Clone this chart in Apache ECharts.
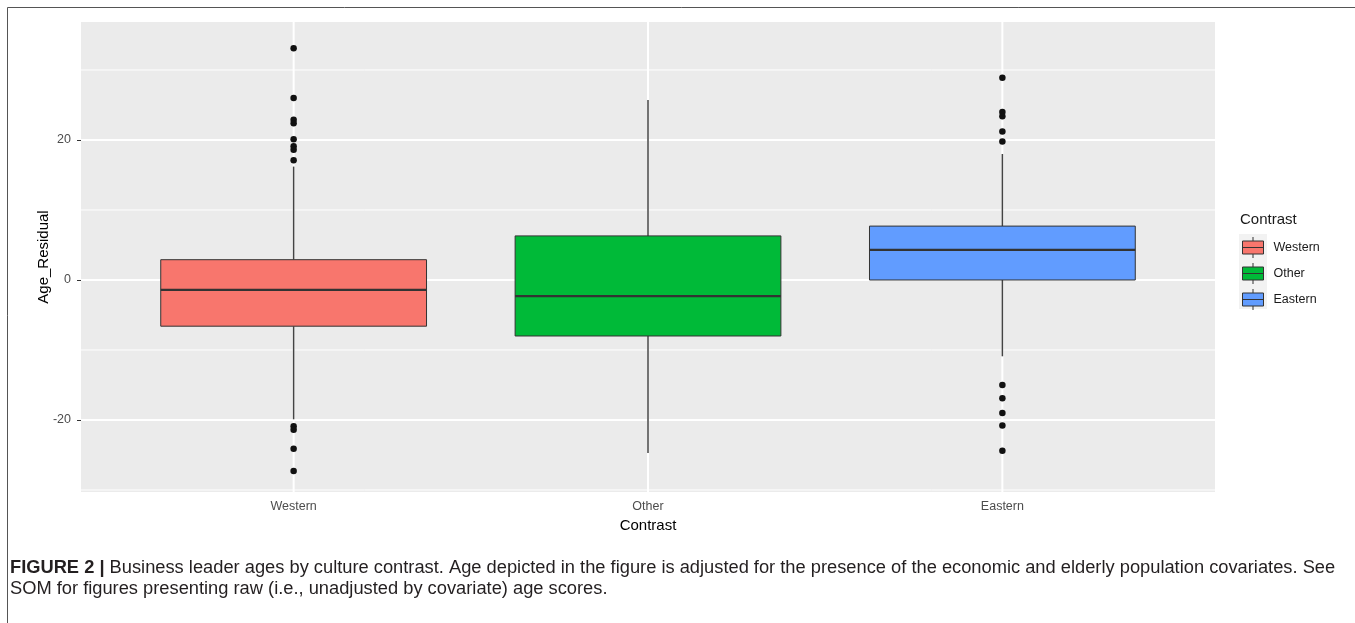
<!DOCTYPE html>
<html>
<head>
<meta charset="utf-8">
<script src="https://cdn.jsdelivr.net/npm/echarts@6/dist/echarts.min.js"></script>
<style>
  html, body { margin: 0; padding: 0; background: #ffffff; }
  #chart { width: 1355px; height: 623px; }
</style>
</head>
<body>
<div id="chart"></div>
<script>
// Age residuals by culture contrast: five-number summaries and outliers
const categories = ['Western', 'Other', 'Eastern'];
const whiskerLow = [-19.9, -24.7, -10.9];
const q1 = [-6.6, -8.0, 0.0];
const median = [-1.4, -2.3, 4.3];
const q3 = [2.9, 6.3, 7.7];
const whiskerHigh = [16.2, 25.7, 18.0];
const outliersWestern = [33.1, 26.0, 22.9, 22.4, 20.1, 19.1, 18.6, 17.1, -20.9, -21.4, -24.1, -27.3];
const outliersOther = [];
const outliersEastern = [28.9, 24.0, 23.4, 21.2, 19.8, -15.0, -16.9, -19.0, -20.8, -24.4];
const yTicks = [-20, 0, 20];
const yMinorLines = [-30, -10, 10, 30];
const colors = ['#F8766D', '#00BA38', '#619CFF'];

const FONT = '"Liberation Sans", Arial, sans-serif';
const positions = categories.map((c, i) => i + 1);
const outliers = [outliersWestern, outliersOther, outliersEastern];

const chart = echarts.init(document.getElementById('chart'), null, { renderer: 'canvas' });

// white panel grid lines
function renderHLine(params, api) {
  const cs = params.coordSys;
  const y = api.coord([1, api.value(1)])[1];
  return {
    type: 'line',
    shape: { x1: cs.x, y1: y, x2: cs.x + cs.width, y2: y },
    style: { stroke: '#ffffff', lineWidth: api.value(2) }
  };
}
function renderVLine(params, api) {
  const cs = params.coordSys;
  const x = api.coord([api.value(0), 0])[0];
  return {
    type: 'line',
    shape: { x1: x, y1: cs.y, x2: x, y2: cs.y + cs.height },
    style: { stroke: '#ffffff', lineWidth: 2 }
  };
}

// box with whiskers for one group
function renderBox(params, api) {
  const x = api.value(0);
  const lo = api.coord([x, api.value(1)]);
  const b1 = api.coord([x, api.value(2)]);
  const md = api.coord([x, api.value(3)]);
  const b3 = api.coord([x, api.value(4)]);
  const hi = api.coord([x, api.value(5)]);
  const half = api.size([0.75, 0])[0] / 2;
  const cx = lo[0];
  const color = api.visual('color');
  return {
    type: 'group',
    children: [
      { type: 'line', shape: { x1: cx, y1: hi[1], x2: cx, y2: b3[1] }, style: { stroke: '#444444', lineWidth: 1.5 } },
      { type: 'line', shape: { x1: cx, y1: b1[1], x2: cx, y2: lo[1] }, style: { stroke: '#444444', lineWidth: 1.5 } },
      { type: 'rect', shape: { x: cx - half, y: b3[1], width: 2 * half, height: b1[1] - b3[1] },
        style: { fill: color, stroke: '#333333', lineWidth: 1 } },
      { type: 'line', shape: { x1: cx - half, y1: md[1], x2: cx + half, y2: md[1] }, style: { stroke: '#333333', lineWidth: 2.2 } }
    ]
  };
}

const series = [
  {
    name: 'hgrid', type: 'custom', silent: true, z: 1,
    renderItem: renderHLine,
    encode: { x: 0, y: 1 },
    data: yTicks.map(v => [1, v, 2]).concat(yMinorLines.map(v => [1, v, 1]))
  },
  {
    name: 'vgrid', type: 'custom', silent: true, z: 1,
    renderItem: renderVLine,
    encode: { x: 0, y: 1 },
    data: positions.map(p => [p, 0])
  }
];

categories.forEach((c, i) => {
  series.push({
    name: c, type: 'custom', z: 2,
    renderItem: renderBox,
    itemStyle: { color: colors[i] },
    encode: { x: 0, y: [1, 2, 3, 4, 5] },
    data: [[positions[i], whiskerLow[i], q1[i], median[i], q3[i], whiskerHigh[i]]]
  });
});

series.push({
  name: 'outliers', type: 'scatter', z: 3, silent: true,
  symbolSize: 6.5,
  itemStyle: { color: '#111111', opacity: 1 },
  data: outliers.flatMap((arr, i) => arr.map(v => [positions[i], v]))
});

const option = {
  animation: false,
  backgroundColor: '#ffffff',
  grid: {
    left: 81, right: 140, top: 22, bottom: 131,
    show: true, backgroundColor: '#EBEBEB', borderWidth: 0
  },
  xAxis: {
    type: 'value', min: 0.4, max: 3.6,
    name: 'Contrast', nameLocation: 'middle', nameGap: 24,
    nameTextStyle: { fontSize: 15, color: '#000000', fontFamily: FONT },
    axisLine: { show: false },
    axisTick: { show: true, length: 4, customValues: positions, lineStyle: { color: '#333333', width: 1 } },
    axisLabel: {
      customValues: positions, margin: 8,
      formatter: v => categories[Math.round(v) - 1],
      fontSize: 12.5, color: '#4D4D4D', fontFamily: FONT
    },
    splitLine: { show: false }
  },
  yAxis: {
    type: 'value', min: -30.286, max: 36.857,
    name: 'Age_Residual', nameLocation: 'middle', nameGap: 30, nameMoveOverlap: false,
    nameTextStyle: { fontSize: 15, color: '#000000', fontFamily: FONT },
    axisLine: { show: false },
    axisTick: { show: true, length: 4, customValues: yTicks, lineStyle: { color: '#333333', width: 1 } },
    axisLabel: { customValues: yTicks, margin: 10, fontSize: 12.5, color: '#4D4D4D', fontFamily: FONT },
    splitLine: { show: false }
  },
  legend: {
    data: categories,
    orient: 'vertical',
    left: 1242, top: 236.5, padding: 0,
    itemWidth: 21, itemHeight: 21, itemGap: 4,
    icon: 'path://M10.5,0L10.5,4M0,4L21,4L21,17L0,17ZM0,10.5L21,10.5M10.5,17L10.5,21',
    itemStyle: { borderColor: '#333333', borderWidth: 1 },
    textStyle: { fontSize: 12.5, color: '#1a1a1a', fontFamily: FONT, padding: [0, 0, 0, 5] },
    selectedMode: false
  },
  title: [
    {
      text: 'Contrast', left: 1240, top: 212, padding: 0,
      textStyle: { fontSize: 15, fontWeight: 'normal', color: '#1a1a1a', fontFamily: FONT }
    },
    {
      text: '{b|FIGURE 2 |} Business leader ages by culture contrast. Age depicted in the figure is adjusted for the presence of the economic and elderly population covariates. See\nSOM for figures presenting raw (i.e., unadjusted by covariate) age scores.',
      left: 10, top: 557, padding: 0,
      textStyle: {
        fontSize: 18.3, fontWeight: 'normal', color: '#231F20', fontFamily: FONT, lineHeight: 21,
        rich: { b: { fontSize: 18.3, fontWeight: 'bold', color: '#231F20', fontFamily: FONT, lineHeight: 21 } }
      }
    }
  ],
  graphic: [
    {
      type: 'rect', silent: true, z: -1,
      shape: { x: 1239, y: 234, width: 28, height: 75 },
      style: { fill: '#F2F2F2' }
    },
    {
      type: 'rect', silent: true, z: 10,
      shape: { x: 7.5, y: 7.5, width: 1400, height: 700 },
      style: { fill: null, stroke: '#555555', lineWidth: 1 }
    }
  ],
  series: series
};

chart.setOption(option);
</script>
</body>
</html>
